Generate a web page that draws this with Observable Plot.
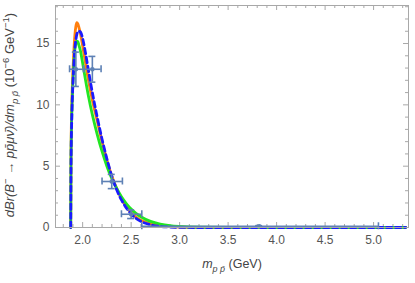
<!DOCTYPE html>
<html><head><meta charset="utf-8">
<script src="https://cdn.jsdelivr.net/npm/d3@7"></script>
<script src="https://cdn.jsdelivr.net/npm/@observablehq/plot@0.6"></script>
<style>body{margin:0;background:#fff}svg{display:block}</style>
</head><body><div id="chart"></div>
<script>
// Curve samples (GeV, 10^-6 GeV^-1)
const xs     = [1.877, 1.88, 1.89, 1.90, 1.91, 1.92, 1.93, 1.94, 1.95, 1.96, 1.98, 2.00, 2.03, 2.06, 2.10, 2.15, 2.20, 2.25, 2.30, 2.35, 2.40, 2.45, 2.50, 2.55, 2.60, 2.70, 2.80, 2.90, 3.00, 3.20, 3.50, 4.00, 4.50, 5.00, 5.33];
const orange = [0, 6.0, 10.5, 12.8, 14.5, 15.7, 16.4, 16.7, 16.6, 16.35, 15.7, 14.8, 13.4, 12.0, 10.4, 8.7, 7.0, 5.5, 4.2, 3.2, 2.35, 1.7, 1.2, 0.85, 0.6, 0.3, 0.15, 0.07, 0.03, 0.005, 0, 0, 0, 0, 0];
const green  = [0, 5.5, 9.8, 11.9, 13.4, 14.5, 15.0, 15.2, 15.15, 14.9, 14.3, 13.4, 12.0, 10.7, 9.2, 7.6, 6.2, 5.0, 4.0, 3.2, 2.5, 1.95, 1.5, 1.15, 0.88, 0.5, 0.28, 0.15, 0.08, 0.02, 0.003, 0, 0, 0, 0];
const blue   = [0, 5.0, 9.5, 11.8, 13.4, 14.6, 15.3, 15.75, 15.95, 16.0, 15.9, 15.4, 14.2, 12.8, 11.0, 9.0, 7.2, 5.6, 4.2, 3.1, 2.25, 1.6, 1.1, 0.75, 0.5, 0.22, 0.09, 0.035, 0.012, 0, 0, 0, 0, 0, 0];

// Data points with error bars
const pointX   = [1.93, 2.10, 2.30, 2.50, 3.82];
const pointY   = [12.9, 12.9, 3.75, 1.08, 0.1];
const pointXLo = [1.865, 2.01, 2.20, 2.40, 2.61];
const pointXHi = [2.01, 2.19, 2.41, 2.61, 5.05];
const pointYErr= [1.4, 1.05, 0.58, 0.35, 0.05];

// Tick labels
const xMajor = [2.0, 2.5, 3.0, 3.5, 4.0, 4.5, 5.0];
const yMajor = [0, 5, 10, 15];

const W = 415, H = 283, mL = 55, mR = 7, mT = 5, mB = 56;
const xDom = [1.72, 5.36], yDom = [0, 18.1];
const kx = (xDom[1]-xDom[0])/(W-mL-mR);
const ky = (yDom[1]-yDom[0])/(H-mT-mB);

const series = (ys) => xs.map((x,i)=>({x, y: ys[i]}));
const pts = pointX.map((x,i)=>({x, y: pointY[i], xlo: pointXLo[i], xhi: pointXHi[i], ylo: pointY[i]-pointYErr[i], yhi: pointY[i]+pointYErr[i]}));

const xMinor = d3.range(1.8, 5.36, 0.1).map(v=>+v.toFixed(2)).filter(v=>!xMajor.some(m=>Math.abs(m-v)<1e-6));
const yMinor = d3.range(1, 18.1, 1).filter(v=>!yMajor.includes(v));

const fc = "#a8a8a8", ec = "#5e81b5", tc = "#555";
const tickX = (arr,len) => [
  Plot.ruleX(arr, {x: d=>d, y1: yDom[0], y2: yDom[0]+len*ky, stroke: fc}),
  Plot.ruleX(arr, {x: d=>d, y1: yDom[1]-len*ky, y2: yDom[1], stroke: fc})
];
const tickY = (arr,len) => [
  Plot.ruleY(arr, {y: d=>d, x1: xDom[0], x2: xDom[0]+len*kx, stroke: fc}),
  Plot.ruleY(arr, {y: d=>d, x1: xDom[1]-len*kx, x2: xDom[1], stroke: fc})
];

const svg = Plot.plot({
  width: W, height: H, marginLeft: mL, marginRight: mR, marginTop: mT, marginBottom: mB,
  style: {fontFamily: "Liberation Sans, Arial, sans-serif", fontSize: "11px", background: "#fff"},
  x: {domain: xDom, axis: null},
  y: {domain: yDom, axis: null},
  marks: [
    ...tickX(xMajor, 5), ...tickX(xMinor, 3),
    ...tickY(yMajor, 5), ...tickY(yMinor, 3),
    Plot.text(xMajor, {x: d=>d, y: yDom[0], dy: 13, text: d=>d.toFixed(1), fill: tc, fontSize: 12}),
    Plot.text(yMajor, {x: xDom[0], y: d=>d, dx: -6, textAnchor: "end", text: d=>String(d), fill: tc, fontSize: 12}),
    // curves
    Plot.line(series(orange), {x: "x", y: "y", stroke: "#ff7f0e", strokeWidth: 2.8, curve: "monotone-x"}),
    Plot.line(series(green), {x: "x", y: "y", stroke: "#22e622", strokeWidth: 2.8, curve: "monotone-x"}),
    Plot.line(series(blue), {x: "x", y: "y", stroke: "#1a1aff", strokeWidth: 2.8, strokeDasharray: "5.5,3.5", curve: "monotone-x"}),
    // error bars
    Plot.ruleX(pts, {x: "x", y1: "ylo", y2: "yhi", stroke: ec, strokeWidth: 1.6}),
    Plot.ruleY(pts, {y: "y", x1: "xlo", x2: "xhi", stroke: ec, strokeWidth: 1.6}),
    Plot.ruleY(pts, {y: "ylo", x1: d=>d.x-3.5*kx, x2: d=>d.x+3.5*kx, stroke: ec, strokeWidth: 1.6}),
    Plot.ruleY(pts, {y: "yhi", x1: d=>d.x-3.5*kx, x2: d=>d.x+3.5*kx, stroke: ec, strokeWidth: 1.6}),
    Plot.ruleX(pts, {x: "xlo", y1: d=>d.y-3.5*ky, y2: d=>d.y+3.5*ky, stroke: ec, strokeWidth: 1.6}),
    Plot.ruleX(pts, {x: "xhi", y1: d=>d.y-3.5*ky, y2: d=>d.y+3.5*ky, stroke: ec, strokeWidth: 1.6}),
    Plot.dot(pts, {x: "x", y: "y", r: 2.3, fill: ec}),
    Plot.frame({stroke: fc})
  ]
});

const s = d3.select(svg);
// y label
const yl = s.append("text")
  .attr("transform", "translate(14,115) rotate(-90)")
  .attr("text-anchor", "middle")
  .attr("fill", "#444").style("font-size", "13px")
  .style("font-family", "Liberation Sans, Arial, sans-serif");
yl.append("tspan").style("font-style","italic").text("dBr(B");
yl.append("tspan").style("font-style","italic").attr("dy",-5).style("font-size","9.5px").text("\u2212");
yl.append("tspan").style("font-style","italic").attr("dy",5).text(" \u2192 pp\u0304\u03bc\u03bd\u0304)/dm");
yl.append("tspan").style("font-style","italic").attr("dy",4).style("font-size","9.5px").text("p p\u0304");
yl.append("tspan").attr("dy",-4).text(" (10");
yl.append("tspan").attr("dy",-5).style("font-size","9.5px").text("\u22126");
yl.append("tspan").attr("dy",5).text(" GeV");
yl.append("tspan").attr("dy",-5).style("font-size","9.5px").text("\u22121");
yl.append("tspan").attr("dy",5).text(")");

// x label
const xl = s.append("text")
  .attr("x", 232).attr("y", 268)
  .attr("text-anchor", "middle")
  .attr("fill", "#444").style("font-size", "12.5px")
  .style("font-family", "Liberation Sans, Arial, sans-serif");
xl.append("tspan").style("font-style","italic").text("m");
xl.append("tspan").style("font-style","italic").attr("dy",4).style("font-size","9px").text("p p\u0304");
xl.append("tspan").attr("dy",-4).text(" (GeV)");

document.getElementById("chart").appendChild(svg);
</script>
</body></html>
